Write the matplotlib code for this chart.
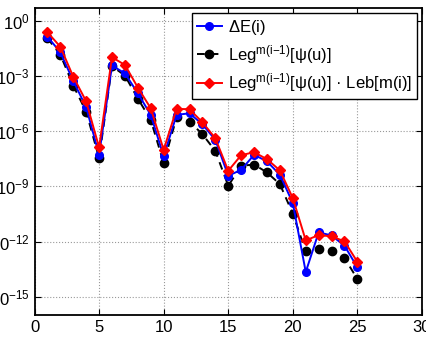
import numpy as np
import matplotlib
matplotlib.use("Agg")
import matplotlib.pyplot as plt

plt.rcParams['font.family'] = ['Liberation Sans', 'DejaVu Sans']
plt.rcParams['mathtext.fontset'] = 'custom'
plt.rcParams['mathtext.rm'] = 'Liberation Sans'
plt.rcParams['mathtext.it'] = 'Liberation Sans:italic'
plt.rcParams['mathtext.default'] = 'regular'

# iteration index
it = list(range(1, 26))

# log10 of the values
log_dE = [-0.85, -1.70, -3.26, -4.69, -7.28, -2.42, -2.85, -3.93, -5.11, -7.36,
          -5.11, -5.02, -5.62, -6.47, -8.42, -8.10, -7.28, -7.64, -8.37, -9.91,
          -13.66, -11.50, -11.67, -12.23, -13.41]
log_leg = [-0.94, -1.83, -3.51, -4.93, -7.46, -2.45, -2.97, -4.22, -5.38, -7.73,
           -5.25, -5.47, -6.16, -7.07, -8.97, -7.88, -7.81, -8.24, -8.88, -10.49,
           -12.54, -12.39, -12.52, -12.90, -14.04]
log_leb = [-0.61, -1.40, -3.03, -4.37, -6.88, -1.97, -2.39, -3.62, -4.75, -7.01,
           -4.78, -4.80, -5.51, -6.38, -8.15, -7.30, -7.14, -7.52, -8.13, -9.64,
           -11.94, -11.65, -11.72, -11.99, -13.11]

ytick_exp = [0, -3, -6, -9, -12, -15]
xticks = [0, 5, 10, 15, 20, 25, 30]

dE = 10.0 ** np.array(log_dE)
leg = 10.0 ** np.array(log_leg)
leb = 10.0 ** np.array(log_leb)

fig = plt.figure(figsize=(4.26, 3.40), dpi=100)
ax = fig.add_axes([0.081, 0.0735, 0.9096, 0.903])

ax.semilogy(it, dE, '-o', color='#0000ff', lw=1.4, ms=5.5, label=r'$\Delta$E(i)', zorder=3)
ax.semilogy(it, leg, '--o', color='black', lw=1.4, ms=6, dashes=(4, 3),
            label=r'Leg$^{m(i\mathrm{-}1)}$[ψ(u)]', zorder=2)
ax.semilogy(it, leb, '-D', color='#ff0000', lw=1.4, ms=5,
            label=r'Leg$^{m(i\mathrm{-}1)}$[ψ(u)] · Leb[m(i)]', zorder=4)

ax.set_xlim(0, 30)
ax.set_ylim(1e-16, 10 ** 0.71)
ax.set_xticks(xticks)
ax.set_yticks([10.0 ** e for e in ytick_exp])
ax.set_yticklabels([r'$10^{%s}$' % (str(e).replace('-', '−')) for e in ytick_exp])
ax.minorticks_off()
ax.tick_params(direction='in', top=True, right=True, labelsize=12, length=4, width=0.8)
for s in ax.spines.values():
    s.set_linewidth(1.3)
ax.grid(True, linestyle=':', color='#999999', linewidth=0.8)

leg_box = ax.legend(loc='upper right', fontsize=12, handlelength=1.5, handletextpad=0.35,
                    borderaxespad=0.3, borderpad=0.3, labelspacing=0.35, fancybox=False,
                    framealpha=1, edgecolor='black')
leg_box.get_frame().set_linewidth(1.0)

fig.savefig('out.png', dpi=100)
